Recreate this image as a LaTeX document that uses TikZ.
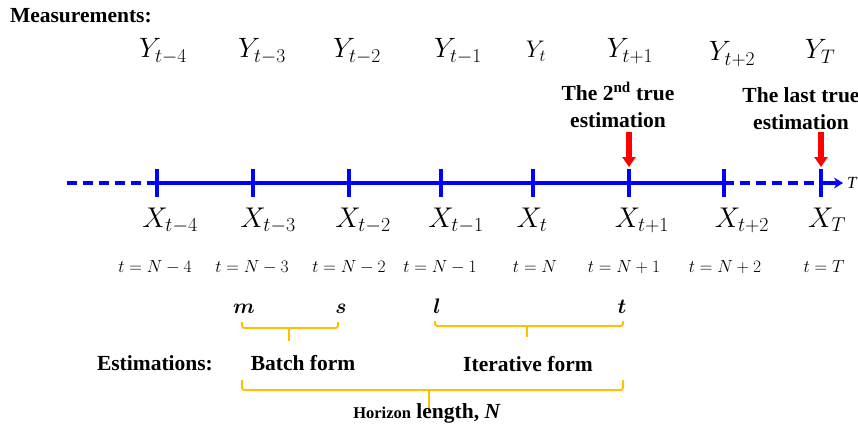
\RequirePackage{fix-cm}
\documentclass[tikz,border=0pt]{standalone}
\usepackage{fontspec}
\setmainfont{Liberation Serif}
\usepackage{bm}
\usetikzlibrary{arrows.meta}
\definecolor{axisblue}{RGB}{0,0,255}
\definecolor{brgold}{RGB}{255,192,0}
\definecolor{arrred}{RGB}{255,0,0}
\begin{document}
\begin{tikzpicture}[x=1pt,y=-1pt,
  every node/.style={inner sep=0pt,outer sep=0pt},
  boldlbl/.style={font=\fontsize{21.5}{27}\selectfont\bfseries,anchor=base},
  ymeas/.style={font=\fontsize{28}{32}\selectfont,anchor=base},
  xstate/.style={font=\fontsize{28.5}{32}\selectfont,anchor=base},
  tlbl/.style={font=\fontsize{17.5}{20}\selectfont,anchor=base},
  idx/.style={font=\fontsize{21}{25}\selectfont,anchor=base},
  axisline/.style={draw=axisblue,line width=3.3pt},
  axisdash/.style={axisline,dash pattern=on 10pt off 6pt},
  tickmark/.style={draw=axisblue,line width=3.3pt},
  redarr/.style={draw=arrred,line width=6pt,-{Triangle[length=10pt,width=13pt]}},
  bracegold/.style={draw=brgold,line width=2pt,rounded corners=2.5pt,line join=round}]
\useasboundingbox (0,0) rectangle (858,425);

% axis coordinates
\coordinate (s0) at (67,183);
\coordinate (a) at (157,183);
\coordinate (b) at (253,183);
\coordinate (c) at (349,183);
\coordinate (d) at (441,183);
\coordinate (e) at (533,183);
\coordinate (f) at (629,183);
\coordinate (g) at (724,183);
\coordinate (h) at (821,183);
\coordinate (tip) at (843,183);

\draw[axisdash] (s0) -- (a);
\draw[axisline] (a) -- (g);
\draw[axisdash] (g) -- (h);
\draw[axisline,-{Stealth[length=9pt,width=11pt]}] (h) -- (tip);
\foreach \p in {a,b,c,d,e,f,g,h}
  \draw[tickmark] ([yshift=14pt]\p) -- ([yshift=-14pt]\p);
\node[font=\fontsize{17}{20}\selectfont\itshape,anchor=base west] (Tlbl) at (847,188) {T};

% titles
\node[boldlbl,anchor=base west] (meas) at (10,23) {Measurements:};
\node[boldlbl,anchor=base west] (est) at (97,370) {Estimations:};

% measurements
\node[ymeas] (y1) at (163,58) {$Y_{t-4}$};
\node[ymeas] (y2) at (262,58) {$Y_{t-3}$};
\node[ymeas] (y3) at (357,58) {$Y_{t-2}$};
\node[ymeas] (y4) at (458,58) {$Y_{t-1}$};
\node[ymeas,font=\fontsize{24}{28}\selectfont] (y5) at (536,58) {$Y_{t}$};
\node[ymeas] (y6) at (630,58) {$Y_{t+1}$};
\node[ymeas] (y7) at (732,61) {$Y_{t+2}$};
\node[ymeas] (y8) at (820,59) {$Y_{T}$};

% states
\node[xstate] (x1) at (170,227) {$X_{t-4}$};
\node[xstate] (x2) at (268,227) {$X_{t-3}$};
\node[xstate] (x3) at (363,227) {$X_{t-2}$};
\node[xstate] (x4) at (456,227) {$X_{t-1}$};
\node[xstate] (x5) at (532,227) {$X_{t}$};
\node[xstate] (x6) at (642,227) {$X_{t+1}$};
\node[xstate] (x7) at (742,227) {$X_{t+2}$};
\node[xstate] (x8) at (827,227) {$X_{T}$};

% time labels
\node[tlbl] (t1) at (155,272) {$t=N-4$};
\node[tlbl] (t2) at (252,272) {$t=N-3$};
\node[tlbl] (t3) at (349,272) {$t=N-2$};
\node[tlbl] (t4) at (440,272) {$t=N-1$};
\node[tlbl] (t5) at (535,272) {$t=N$};
\node[tlbl] (t6) at (624,272) {$t=N+1$};
\node[tlbl] (t7) at (725,272) {$t=N+2$};
\node[tlbl] (t8) at (824,272) {$t=T$};

% true estimation notes
\node[boldlbl,align=center] (note1) at (618,127) {The 2\textsuperscript{nd} true\\estimation};
\node[boldlbl,align=center] (note2) at (801,129) {The last true\\estimation};
\coordinate (r1s) at (629,132);
\coordinate (r1e) at (629,167);
\coordinate (r2s) at (821,132);
\coordinate (r2e) at (821,167);
\draw[redarr] (r1s) -- (r1e);
\draw[redarr] (r2s) -- (r2e);

% index letters
\node[idx] (m) at (244,313) {$\bm{m}$};
\node[idx] (s) at (341,313) {$\bm{s}$};
\node[idx] (l) at (437,313) {$\bm{l}$};
\node[idx] (tt) at (622,313) {$\bm{t}$};

% braces
\draw[bracegold] (242,322) -- (242,328) -- (338,328) -- (338,322);
\draw[bracegold] (289,328) -- (289,341);
\draw[bracegold] (435,321) -- (435,326) -- (623,326) -- (623,321);
\draw[bracegold] (527,326) -- (527,337);
\draw[bracegold] (242,380) -- (242,390) -- (623,390) -- (623,380);
\draw[bracegold] (429,390) -- (429,408);

\node[boldlbl] (batch) at (303,370) {Batch form};
\node[boldlbl] (iter) at (528,371) {Iterative form};
\node[boldlbl] (hor) at (427,418) {{\fontsize{16.5}{20}\selectfont Horizon} length, \textit{N}};
\end{tikzpicture}
\end{document}
